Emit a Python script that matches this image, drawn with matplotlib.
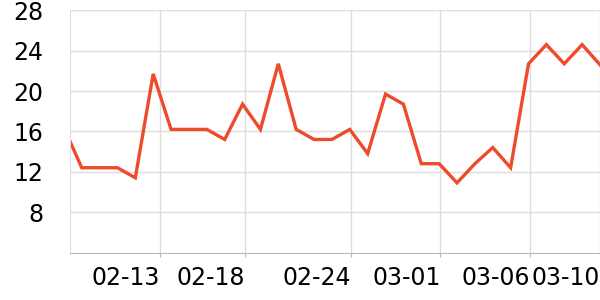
import numpy as np
import matplotlib
matplotlib.use("Agg")
import matplotlib.pyplot as plt

# daily values, 02-08 .. 03-10
days = ["02-08", "02-09", "02-10", "02-11", "02-12", "02-13", "02-14", "02-15",
        "02-16", "02-17", "02-18", "02-19", "02-20", "02-21", "02-22", "02-23",
        "02-24", "02-25", "02-26", "02-27", "02-28", "03-01", "03-02", "03-03",
        "03-04", "03-05", "03-06", "03-07", "03-08", "03-09", "03-10"]
values = [16.4, 12.4, 12.4, 12.4, 11.4, 21.7, 16.2, 16.2, 16.2, 15.2, 18.7,
          16.2, 22.7, 16.2, 15.2, 15.2, 16.2, 13.8, 19.7, 18.7, 12.8, 12.8,
          10.9, 12.8, 14.4, 12.4, 22.7, 24.6, 22.7, 24.6, 22.6]
tick_labels = ["02-13", "02-18", "02-24", "03-01", "03-06", "03-10"]
tick_pos = [5.37, 10.11, 16.09, 21.07, 26.11, 30.0]
y_ticks = [8, 12, 16, 20, 24, 28]

fig = plt.figure(figsize=(6, 3), dpi=100)
ax = fig.add_axes([70/600, 47.5/300, 530/600, 242.2/300])

x = np.arange(len(days))
ax.plot(x, values, color="#ee4a2c", lw=2.4, solid_joinstyle="miter", clip_on=True)

ax.set_xlim(0.345, 30)
ax.set_ylim(4, 28)
ax.set_yticks(y_ticks)
ax.set_xticks(tick_pos)
ax.set_xticklabels(tick_labels, ha="right")

ax.grid(True, color="#dddddd", lw=1)
ax.set_axisbelow(True)
for s in ["top", "right"]:
    ax.spines[s].set_visible(False)
ax.spines["left"].set_color("#dddddd")
ax.spines["bottom"].set_color("#bbbbbb")
ax.tick_params(axis="y", length=0, pad=19, labelsize=17)
ax.tick_params(axis="x", length=3, color="#bbbbbb", pad=7, labelsize=17)

fig.savefig("out.png", dpi=100)
